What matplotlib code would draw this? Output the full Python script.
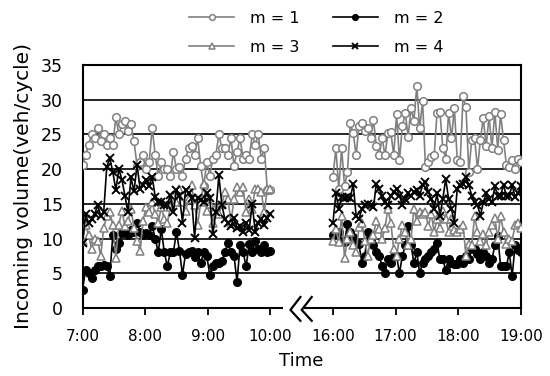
import numpy as np
import matplotlib
matplotlib.use('Agg')
import matplotlib.pyplot as plt

# morning 7:00-10:00, afternoon 16:00-19:00 (values in veh/cycle)
m1_am = [20.6, 22.0, 23.5, 25.0, 24.5, 26.0, 24.0, 25.0, 23.5, 24.5, 23.5, 27.5, 25.0, 26.5,
         27.0, 25.5, 26.5, 24.0, 20.5, 21.0, 22.0, 20.0, 21.0, 26.0, 22.0, 19.0, 21.0, 20.0,
         20.0, 19.0, 22.5, 20.0, 20.3, 19.0, 21.5, 23.0, 23.3, 22.0, 24.5, 20.5, 17.5, 21.0,
         19.0, 21.5, 22.0, 25.0, 23.0, 23.0, 22.0, 24.5, 20.5, 22.5, 24.5, 21.5, 22.0, 21.5,
         25.0, 23.5, 25.0, 21.5, 23.0, 17.0, 17.0]
m2_am = [2.6, 5.5, 5.0, 4.3, 5.5, 6.0, 6.0, 6.2, 6.0, 4.6, 10.5, 8.5, 9.4, 10.8, 11.0, 10.5,
         11.3, 11.0, 12.2, 11.0, 10.5, 10.8, 10.5, 11.8, 10.0, 8.0, 11.4, 8.0, 6.0, 8.0, 8.0,
         11.0, 8.2, 4.8, 7.8, 8.0, 8.2, 7.3, 8.0, 6.5, 8.0, 7.5, 4.8, 6.0, 6.5, 6.5, 6.7, 8.0,
         9.4, 8.0, 7.5, 3.8, 9.0, 8.0, 6.0, 9.2, 8.0, 9.6, 8.5, 8.0, 9.0, 8.0, 8.2]
m3_am = [9.7, 12.0, 10.5, 8.5, 10.0, 9.7, 7.5, 11.5, 13.3, 13.8, 12.0, 7.2, 12.0, 14.0, 11.8,
         12.5, 14.3, 11.5, 9.7, 8.2, 12.6, 14.5, 13.8, 15.2, 13.5, 12.3, 14.5, 12.8, 12.3, 14.5,
         16.2, 15.2, 17.2, 15.2, 14.0, 15.7, 17.7, 14.8, 12.0, 15.2, 17.9, 14.0, 15.0, 12.3,
         14.5, 13.5, 15.0, 16.7, 15.7, 12.3, 15.7, 17.4, 16.7, 17.4, 13.8, 15.7, 14.3, 17.2,
         17.2, 16.7, 13.8, 17.2, 17.2]
m4_am = [9.4, 13.5, 12.3, 12.8, 13.5, 14.8, 13.3, 13.8, 20.3, 21.6, 19.6, 17.0, 20.0, 18.5,
         16.2, 13.8, 18.8, 16.8, 20.6, 17.2, 17.7, 18.5, 17.5, 18.9, 16.0, 15.3, 15.3, 14.8,
         14.8, 16.3, 13.8, 17.0, 16.2, 12.3, 17.0, 16.5, 15.8, 10.1, 15.8, 15.5, 15.2, 16.5,
         15.8, 10.6, 13.8, 19.1, 14.8, 12.8, 12.3, 11.8, 13.0, 11.5, 11.8, 11.0, 12.3, 11.2,
         15.0, 11.0, 12.3, 12.8, 12.0, 13.0, 13.5]

m1_pm = [18.9, 23.0, 17.2, 23.0, 17.5, 19.6, 26.6, 25.2, 22.0, 26.2, 26.6, 25.5, 26.0, 24.5,
         27.1, 23.3, 22.0, 24.5, 22.0, 25.2, 25.4, 22.0, 27.9, 21.3, 26.2, 28.1, 24.7, 28.8,
         27.0, 32.0, 25.9, 29.8, 20.3, 21.0, 21.8, 22.0, 28.1, 28.3, 23.0, 21.5, 28.1, 24.5,
         28.8, 21.3, 21.1, 30.5, 29.0, 19.6, 24.2, 24.5, 20.0, 24.2, 27.4, 23.3, 27.6, 23.0,
         28.3, 22.8, 27.9, 24.2, 20.6, 20.3, 21.3, 20.0, 21.5, 21.0]
m2_pm = [10.5, 11.0, 10.9, 9.7, 9.5, 12.1, 11.0, 10.2, 9.5, 9.2, 6.5, 7.5, 10.9, 10.0, 9.0,
         8.0, 7.5, 6.0, 5.0, 7.0, 6.5, 7.5, 7.5, 5.0, 7.5, 9.0, 11.8, 9.0, 6.5, 8.0, 5.0, 6.5,
         7.0, 7.5, 8.0, 8.5, 9.4, 7.0, 7.0, 5.5, 7.0, 6.5, 6.3, 6.3, 7.0, 6.5, 7.5, 7.0, 8.5,
         8.5, 7.8, 7.0, 8.0, 7.5, 6.5, 7.0, 9.0, 10.4, 6.0, 6.0, 6.0, 8.0, 4.6, 9.0, 8.3, 8.0]
m3_pm = [9.7, 11.4, 9.5, 13.3, 7.2, 10.0, 11.0, 9.0, 8.0, 11.6, 12.3, 9.7, 7.5, 10.0, 10.5,
         12.6, 11.4, 10.0, 11.5, 14.3, 12.3, 8.5, 7.5, 10.0, 12.0, 11.0, 9.0, 10.0, 14.3, 12.6,
         13.8, 13.5, 13.8, 11.8, 13.5, 11.0, 12.8, 11.5, 14.0, 12.8, 11.0, 12.8, 11.2, 11.0,
         11.4, 12.0, 7.5, 9.2, 9.0, 13.3, 11.0, 9.7, 10.6, 9.0, 11.0, 12.0, 13.0, 10.0, 13.3,
         11.0, 9.2, 10.0, 9.7, 12.0, 12.3, 11.5]
m4_pm = [12.3, 16.5, 14.3, 16.0, 15.8, 16.0, 15.8, 17.9, 13.3, 12.8, 14.3, 14.8, 15.0, 14.8,
         14.5, 17.9, 17.2, 16.2, 15.2, 14.8, 16.2, 16.7, 17.2, 16.2, 14.8, 15.7, 16.5, 16.2,
         16.7, 17.0, 16.2, 17.7, 18.2, 16.7, 15.7, 14.3, 16.5, 13.3, 15.7, 18.6, 15.7, 14.3,
         12.3, 17.2, 17.7, 17.9, 18.9, 17.7, 16.2, 15.2, 14.8, 13.3, 15.2, 16.5, 15.7, 15.2,
         17.5, 16.2, 16.2, 17.7, 16.2, 16.2, 17.7, 16.0, 16.5, 17.5]

tick_labels = ['7:00', '8:00', '9:00', '10:00', '16:00', '17:00', '18:00', '19:00']

# axis position in hours; 16:00 is drawn one hour after 10:00
t_am = 7 + np.linspace(0, 3, len(m1_am))
t_pm = 11 + np.linspace(0, 3, len(m1_pm))

gray = '#808080'
styles = [
    ('m = 1', m1_am, m1_pm, dict(color=gray, marker='o', mfc='white', mec=gray, ms=5.5, mew=1.1)),
    ('m = 2', m2_am, m2_pm, dict(color='black', marker='o', mfc='black', mec='black', ms=5.5)),
    ('m = 3', m3_am, m3_pm, dict(color=gray, marker='^', mfc='white', mec=gray, ms=5.5, mew=1.1)),
    ('m = 4', m4_am, m4_pm, dict(color='black', marker='x', ms=6, mew=1.4)),
]

fig = plt.figure(figsize=(5.5, 3.76), dpi=100)
ax = fig.add_axes([0.150, 0.181, 0.797, 0.646])

for gy in range(5, 35, 5):
    ax.axhline(gy, color='black', lw=1.2, zorder=1)

handles = {}
for label, am, pm, st in styles:
    handles[label], = ax.plot(t_am, am, lw=1.2, label=label, zorder=3, **st)
    ax.plot(t_pm, pm, lw=1.2, zorder=3, **st)

ax.set_xlim(7, 14)
ax.set_ylim(0, 35)
ax.set_yticks(range(0, 36, 5))
ax.set_xticks(range(7, 15))
ax.set_xticklabels(tick_labels)
ax.tick_params(axis='x', labelsize=11, length=5, width=1.3, direction='out', pad=10)
ax.tick_params(axis='y', labelsize=12.5, length=0, pad=14)

for s in ['left', 'right', 'top']:
    ax.spines[s].set_linewidth(1.5)
ax.spines['bottom'].set_visible(False)

# broken bottom axis with break mark
tr = ax.get_xaxis_transform()
ax.plot([7, 10.19], [0, 0], color='black', lw=1.5, transform=tr, clip_on=False)
ax.plot([10.55, 14], [0, 0], color='black', lw=1.5, transform=tr, clip_on=False)
for x0 in [10.32, 10.50]:
    ax.plot([x0 + 0.16, x0, x0 + 0.16], [0.045, -0.008, -0.053], color='black',
            lw=1.6, transform=tr, clip_on=False)

ax.set_xlabel('Time', fontsize=13, labelpad=6)
ax.set_ylabel('Incoming volume(veh/cycle)', fontsize=14.5, labelpad=6)

order = ['m = 1', 'm = 3', 'm = 2', 'm = 4']
fig.legend([handles[k] for k in order], order, loc='upper center',
           bbox_to_anchor=(0.575, 1.01), ncol=2, frameon=False,
           fontsize=11.5, handlelength=2.8, handletextpad=1.0, columnspacing=2.1,
           labelspacing=0.9, markerscale=0.75)

fig.savefig('out.png', dpi=100)
